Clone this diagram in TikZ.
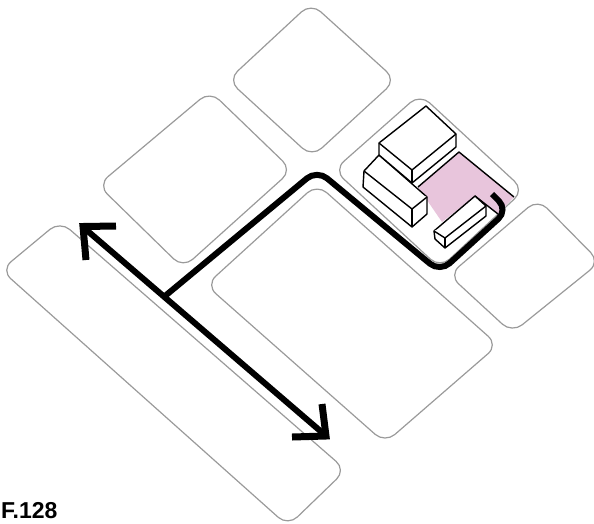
\documentclass[tikz,border=0pt]{standalone}
\usepackage{fontspec}
\setmainfont{Liberation Sans}
\definecolor{blockgray}{HTML}{9A9A9A}
\definecolor{sitepink}{HTML}{E8C5DC}
\tikzset{
  block/.style={draw=blockgray,line width=1.2pt,rounded corners=13pt,line join=round},
  road/.style={draw=black,line width=6pt,rounded corners=13pt},
  arrowline/.style={draw=black,line width=6pt,line cap=butt,line join=miter},
  massing/.style={draw=black,fill=white,line width=1.4pt,line join=round},
  label/.style={font=\bfseries\fontsize{23}{26}\selectfont,anchor=base west,inner sep=0pt}
}
\begin{document}
\begin{tikzpicture}[x=1pt,y=-1pt]
\useasboundingbox (0,0) rectangle (594,523);
% city blocks
\draw[block] (311,3) -- (396,80) -- (312,157) -- (228,80) -- cycle;
\draw[block] (210,91) -- (292,170) -- (183,268) -- (98,185) -- cycle;
\draw[block] (317,184) -- (498,345) -- (385,443) -- (206,285) -- cycle;
\draw[block] (60,221) -- (346,470) -- (288,526) -- (1,270) -- cycle;
\draw[block] (538,199) -- (600,262) -- (512,333) -- (449,275) -- cycle;
\draw[block] (420,94) -- (524,190) -- (440,268) -- (334,170) -- cycle;
% courtyard
\fill[sitepink] (459,152) -- (514,197) -- (498,214) -- (475,196) -- (442,222) -- (418,187) -- cycle;
\draw[black,line width=1.4pt,line join=round] (418,187) -- (459,152) -- (514,197);
\draw[black,line width=1.4pt,line join=round] (498,214) -- (475,196);
% massing
\draw[massing] (379,155) -- (427,197) -- (427,214) -- (412,227) -- (363,187) -- (364,171) -- cycle;
\draw[massing] (364,171) -- (412,209) -- (427,197);
\draw[massing] (412,209) -- (412,227);
\draw[massing] (426,106) -- (456,134) -- (456,147) -- (412,183) -- (379,155) -- (379,143) -- cycle;
\draw[massing] (379,143) -- (412,170) -- (456,134);
\draw[massing] (412,170) -- (412,183);
\draw[massing] (475,196) -- (486,206) -- (486,216) -- (445,248) -- (435,239) -- (434,231) -- cycle;
\draw[massing] (434,231) -- (445,238) -- (486,206);
\draw[massing] (445,238) -- (445,248);
% roads
\coordinate (west) at (83,227);
\coordinate (east) at (325,435);
\coordinate (junction) at (165,296);
\coordinate (corner1) at (317,170);
\coordinate (corner2) at (440,272);
\coordinate (corner3) at (508,210);
\coordinate (stub) at (492,194);
\draw[arrowline] (west) -- (east);
\draw[road] (junction) -- (corner1) -- (corner2) -- (corner3) -- (stub);
\coordinate (wa) at (116,226);
\coordinate (wt) at (83,226.5);
\coordinate (wb) at (86,260);
\draw[arrowline,line width=7pt] (wa) -- (wt) -- (wb);
\coordinate (ea) at (322,404);
\coordinate (et) at (326,436);
\coordinate (eb) at (292,437);
\draw[arrowline,line width=7pt] (ea) -- (et) -- (eb);
\node[label] (caption) at (1,518) {F.128};
\end{tikzpicture}
\end{document}
